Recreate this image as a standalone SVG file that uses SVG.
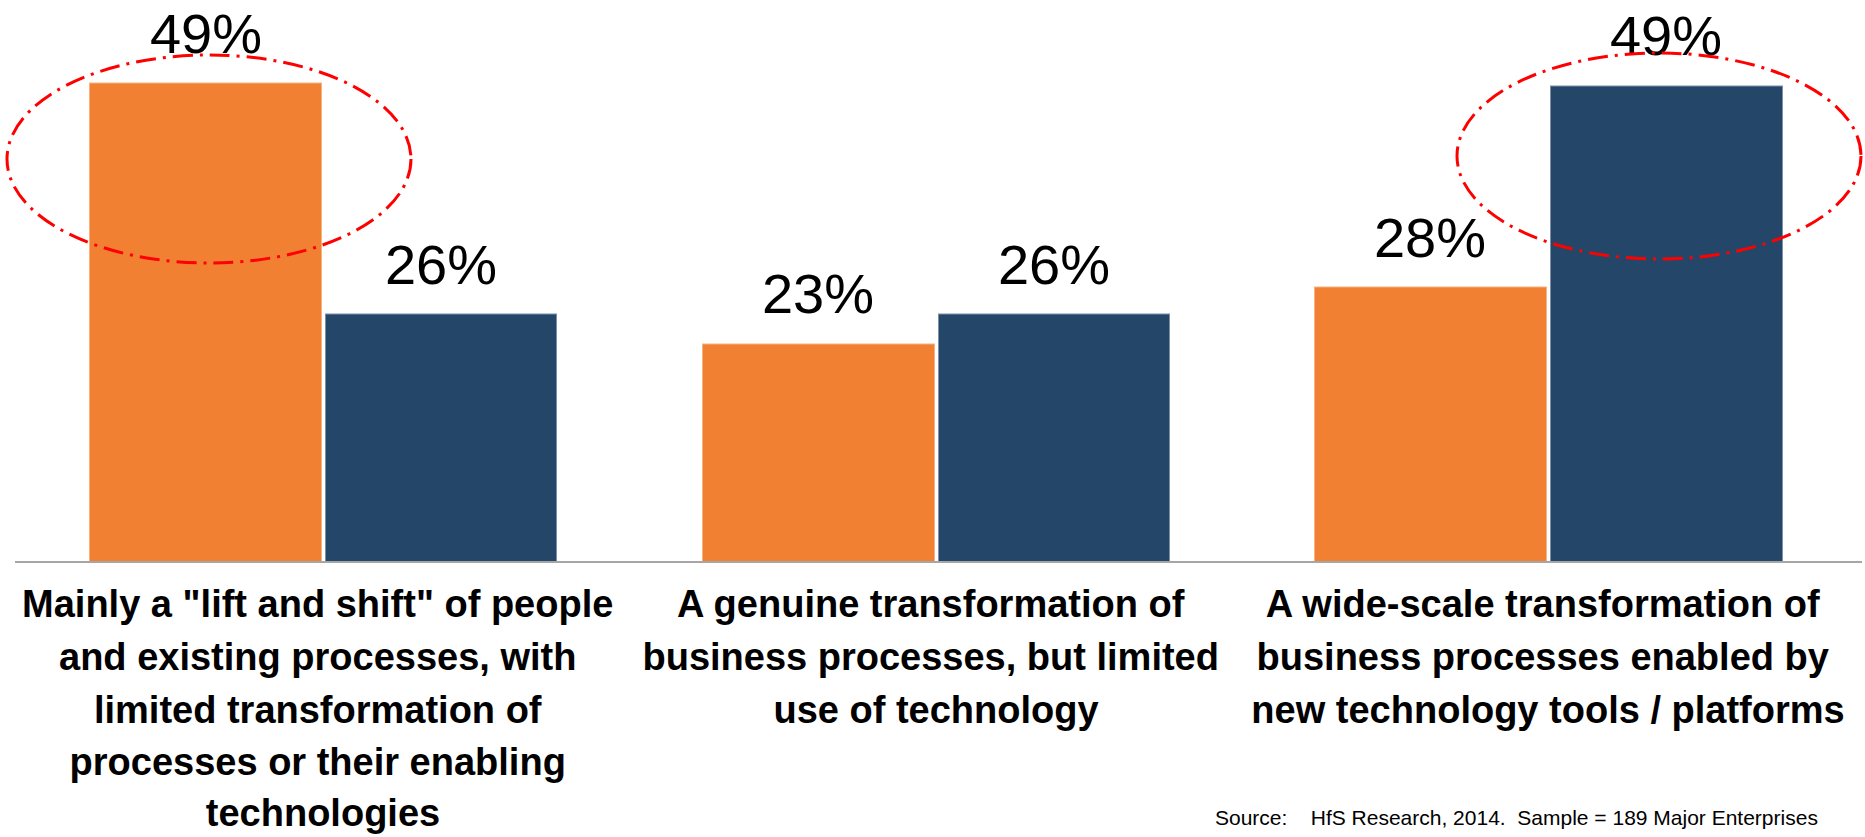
<svg xmlns="http://www.w3.org/2000/svg" width="1865" height="837" viewBox="0 0 1865 837">
  <style>
    .bg { fill: #ffffff; }
    .orange { fill: #F28033; stroke: #F7B27F; stroke-width: 1; }
    .navy { fill: #244669; stroke: #7C8FA6; stroke-width: 1; }
    .pct { font-family: "Liberation Sans", Arial, sans-serif; font-size: 56px; fill: #000000; text-anchor: middle; }
    .cat { font-family: "Liberation Sans", Arial, sans-serif; font-size: 38px; font-weight: bold; fill: #000000; text-anchor: middle; }
    .src { font-family: "Liberation Sans", Arial, sans-serif; font-size: 21px; fill: #000000; white-space: pre; }
    .axis { stroke: #A6A6A6; stroke-width: 2; fill: none; }
    .ring { fill: none; stroke: #FF0000; stroke-width: 3; stroke-dasharray: 20 7 3 7; }
  </style>
  <rect class="bg" x="0" y="0" width="1865" height="837"/>

  <g id="group-lift-and-shift">
    <rect class="orange" x="89.5" y="83" width="232" height="479"/>
    <rect class="navy" x="325.5" y="314" width="231" height="248"/>
    <text class="pct" x="206" y="53">49%</text>
    <text class="pct" x="441" y="284">26%</text>
    <text class="cat" x="323">
      <tspan x="323" y="617">Mainly a "lift and shift" of people</tspan>
      <tspan x="323" y="670">and existing processes, with</tspan>
      <tspan x="323" y="723">limited transformation of</tspan>
      <tspan x="323" y="775">processes or their enabling</tspan>
      <tspan x="323" y="826">technologies</tspan>
    </text>
  </g>

  <g id="group-genuine">
    <rect class="orange" x="702.5" y="344" width="232" height="218"/>
    <rect class="navy" x="938.5" y="314" width="231" height="248"/>
    <text class="pct" x="818" y="313">23%</text>
    <text class="pct" x="1054" y="284">26%</text>
    <text class="cat" x="936">
      <tspan x="936" y="617">A genuine transformation of</tspan>
      <tspan x="936" y="670">business processes, but limited</tspan>
      <tspan x="936" y="723">use of technology</tspan>
    </text>
  </g>

  <g id="group-wide-scale">
    <rect class="orange" x="1314.5" y="287" width="232" height="275"/>
    <rect class="navy" x="1550.5" y="86" width="232" height="476"/>
    <text class="pct" x="1430" y="257">28%</text>
    <text class="pct" x="1666" y="55">49%</text>
    <text class="cat" x="1548">
      <tspan x="1548" y="617">A wide-scale transformation of</tspan>
      <tspan x="1548" y="670">business processes enabled by</tspan>
      <tspan x="1548" y="723">new technology tools / platforms</tspan>
    </text>
  </g>

  <g id="connectors">
    <line class="axis" x1="15" y1="562" x2="1862" y2="562"/>
  </g>

  <g id="highlights">
    <ellipse class="ring" cx="209" cy="159" rx="202" ry="104"/>
    <ellipse class="ring" cx="1659" cy="156" rx="202" ry="103"/>
  </g>

  <g id="source">
    <text class="src" x="1215" y="825" xml:space="preserve">Source:    HfS Research, 2014.  Sample = 189 Major Enterprises</text>
  </g>
</svg>
